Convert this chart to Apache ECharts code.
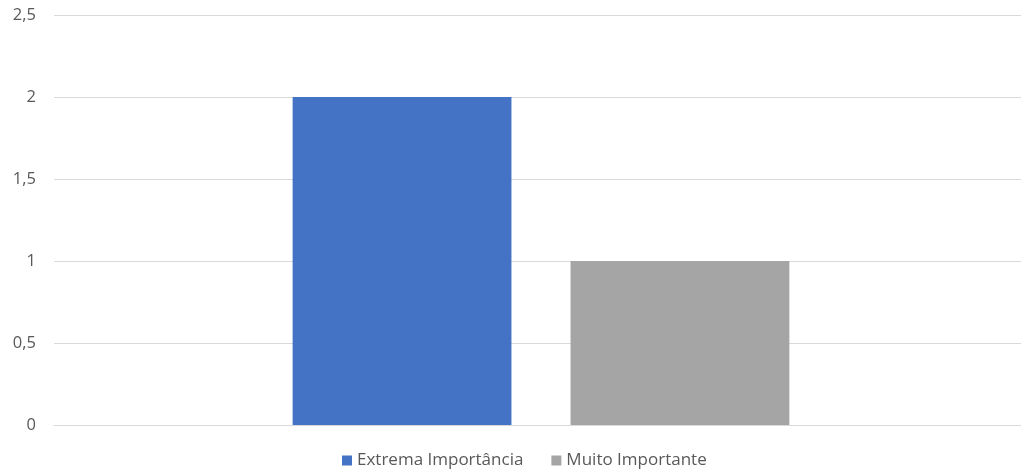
<!DOCTYPE html>
<html>
<head>
<meta charset="utf-8">
<script src="https://cdn.jsdelivr.net/npm/echarts@6/dist/echarts.min.js"></script>
<style>html,body{margin:0;padding:0;background:#fff;overflow:hidden}#c{width:1028px;height:470px}</style>
</head>
<body>
<div id="c"></div>
<script>
var categories = [''];
var seriesNames = ['Extrema Importância', 'Muito Importante'];
var extremaValues = [2];
var muitoValues = [1];
var yTicks = { min: 0, max: 2.5, interval: 0.5 };

var chart = echarts.init(document.getElementById('c'), null, { renderer: 'canvas' });
chart.setOption({
  animation: false,
  backgroundColor: '#ffffff',
  textStyle: { fontFamily: 'Open Sans' },
  grid: { left: 54, right: 0, top: 15, bottom: 45, containLabel: false },
  legend: {
    data: seriesNames,
    top: 447,
    left: 337,
    itemWidth: 10,
    itemHeight: 10,
    itemGap: 28,
    icon: 'rect',
    textStyle: { color: '#595959', fontSize: 17, fontFamily: 'Open Sans' }
  },
  xAxis: {
    type: 'category',
    data: categories,
    axisLine: { show: true, lineStyle: { color: '#d9d9d9', width: 1 } },
    axisTick: { show: false },
    axisLabel: { show: false },
    splitLine: { show: false }
  },
  yAxis: {
    type: 'value',
    min: yTicks.min,
    max: yTicks.max,
    interval: yTicks.interval,
    axisLine: { show: false },
    axisTick: { show: false },
    splitLine: { lineStyle: { color: '#d9d9d9', width: 1 } },
    axisLabel: {
      color: '#595959',
      fontSize: 16.5,
      margin: 18,
      formatter: function (v) { return String(v).replace('.', ','); }
    }
  },
  series: [
    {
      name: seriesNames[0],
      type: 'bar',
      data: extremaValues,
      itemStyle: { color: '#4472C4' },
      barGap: '27%',
      barCategoryGap: '49%'
    },
    {
      name: seriesNames[1],
      type: 'bar',
      data: muitoValues,
      itemStyle: { color: '#A5A5A5' },
      barGap: '27%',
      barCategoryGap: '49%'
    }
  ]
});
</script>
</body>
</html>
